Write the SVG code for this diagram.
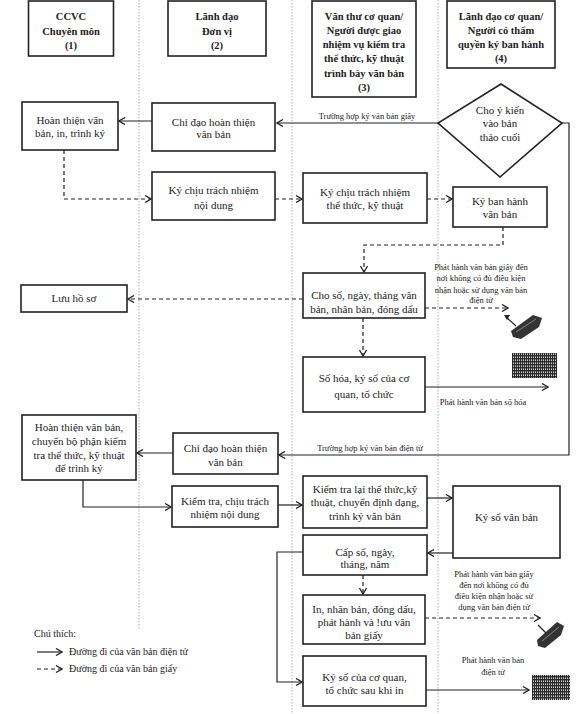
<svg xmlns="http://www.w3.org/2000/svg" width="576" height="714" viewBox="0 0 576 714">
<style>
.bx{fill:#fff;stroke:#222;stroke-width:1.6}
.t{font-family:"Liberation Serif","Times New Roman",serif;font-size:11px;fill:#222;text-anchor:middle}
.h{font-weight:bold;font-size:10.5px}
.s{font-size:8.5px}
.lg{font-size:10px;text-anchor:start}
.c{stroke:#222;stroke-width:1.2;fill:none;marker-end:url(#ah)}
.d{stroke-dasharray:4 3}
.dv{stroke:#999;stroke-width:0.8;stroke-dasharray:1.5 1.5;fill:none}
</style>
<defs>
<marker id="ah" viewBox="0 0 8 8" refX="7" refY="4" markerWidth="8" markerHeight="8" markerUnits="userSpaceOnUse" orient="auto">
<path d="M1,0.5 L7,4 L1,7.5" fill="none" stroke="#222" stroke-width="1.3"/>
</marker>
<pattern id="hatch" width="2" height="3" patternUnits="userSpaceOnUse">
<rect width="2" height="3" fill="#2a2a2a"/>
<rect x="1" y="0" width="1" height="1" fill="#ccc"/>
<rect x="1" y="2" width="1" height="1" fill="#888"/>
</pattern>
</defs>
<rect width="576" height="714" fill="#fff"/>
<g id="dividers">
<path class="dv" d="M139,0 V630 M292,0 V714 M438,0 V714"/>
</g>
<g id="connectors">
<path class="c" d="M152,121 H119"/>
<path class="c" d="M438,123 H277"/>
<text class="t s" x="367" y="119">Trường hợp ký văn bản giấy</text>
<path class="c d" d="M64,150 V199 H151"/>
<path class="c d" d="M275,199 H302"/>
<path class="c d" d="M427,199 H452"/>
<path class="c d" d="M503,227 V245 H364 V272"/>
<path class="c d" d="M303,299 H128"/>
<path class="c d" d="M425,308 H508"/>
<path class="c d" d="M363,318 V356"/>
<path class="c" d="M425,387 H548"/>
<path class="c" d="M562,123 H569 V455 H279"/>
<text class="t s" x="370" y="451">Trường hợp ký văn bản điện tử</text>
<path class="c" d="M173,453 H137"/>
<path class="c" d="M83,480 V507 H171"/>
<path class="c" d="M278,505 H302"/>
<path class="c" d="M427,498 H452"/>
<path class="c" d="M453,553 H428"/>
<path class="c" d="M303,552 H277 V682 H302"/>
<path class="c d" d="M363,575 V594"/>
<path class="c d" d="M425,618 H540"/>
<path class="c" d="M426,690 H529"/>
</g>
<g id="h1"><rect class="bx" x="28.5" y="1" width="85" height="55"/>
<text class="t h" x="71" y="20">CCVC</text><text class="t h" x="71" y="34.5">Chuyên môn</text><text class="t h" x="71" y="49">(1)</text></g>
<g id="h2"><rect class="bx" x="168" y="1" width="98" height="55"/>
<text class="t h" x="217" y="20">Lãnh đạo</text><text class="t h" x="217" y="34.5">Đơn vị</text><text class="t h" x="217" y="49">(2)</text></g>
<g id="h3"><rect class="bx" x="312" y="1" width="104" height="96"/>
<text class="t h" x="364" y="19.5">Văn thư cơ quan/</text><text class="t h" x="364" y="33.8">Người được giao</text><text class="t h" x="364" y="48.1">nhiệm vụ kiểm tra</text><text class="t h" x="364" y="62.4">thể thức, kỹ thuật</text><text class="t h" x="364" y="76.7">trình bày văn bản</text><text class="t h" x="364" y="91">(3)</text></g>
<g id="h4"><rect class="bx" x="447" y="1" width="108" height="67"/>
<text class="t h" x="501" y="19.5">Lãnh đạo cơ quan/</text><text class="t h" x="501" y="33.8">Người có thẩm</text><text class="t h" x="501" y="48.1">quyền ký ban hành</text><text class="t h" x="501" y="62.4">(4)</text></g>
<g id="diamond"><polygon class="bx" points="501,84 562,123 500,177 438,123"/>
<text class="t" x="500" y="114">Cho ý kiến</text><text class="t" x="500" y="127">vào bản</text><text class="t" x="500" y="141">thảo cuối</text></g>
<g id="a1"><rect class="bx" x="22" y="102" width="96" height="48"/>
<text class="t" x="70" y="124">Hoàn thiện văn</text><text class="t" x="70" y="137">bản, in, trình ký</text></g>
<g id="a2"><rect class="bx" x="152" y="103" width="123" height="48"/>
<text class="t" x="213.5" y="126">Chỉ đạo hoàn thiện</text><text class="t" x="213.5" y="138">văn bản</text></g>
<g id="b2"><rect class="bx" x="152" y="172" width="123" height="48"/>
<text class="t" x="213.5" y="194">Ký chịu trách nhiệm</text><text class="t" x="213.5" y="209">nội dung</text></g>
<g id="b3"><rect class="bx" x="303" y="173" width="124" height="50"/>
<text class="t" x="365" y="196">Ký chịu trách nhiệm</text><text class="t" x="365" y="209">thể thức, kỹ thuật</text></g>
<g id="b4"><rect class="bx" x="453" y="187" width="94" height="40"/>
<text class="t" x="500" y="205">Ký ban hành</text><text class="t" x="500" y="218">văn bản</text></g>
<g id="c3"><rect class="bx" x="303" y="273" width="122" height="45"/>
<text class="t" x="364" y="299">Cho số, ngày, tháng văn</text><text class="t" x="364" y="313">bản, nhân bản, đóng dấu</text></g>
<g id="luu"><rect class="bx" x="21" y="285" width="106" height="27"/>
<text class="t" x="74" y="302">Lưu hồ sơ</text></g>
<g id="lbl1"><text class="t s" x="481" y="270">Phát hành văn bản giấy đến</text><text class="t s" x="481" y="281">nơi không có đủ điều kiện</text><text class="t s" x="481" y="293">nhận hoặc sử dụng văn bản</text><text class="t s" x="481" y="303">điện tử</text></g>
<g id="icon1"><path d="M511,331 L533,315 L542,318 L539,327 L521,339 L513,337 Z" fill="#333"/><path d="M516,332 L536,319" stroke="#999" stroke-width="0.8"/><path d="M506,317 L516,326" stroke="#222" stroke-width="1.2"/><path d="M504,315 L510,315 L507,320 Z" fill="#222"/></g>
<g id="c3b"><rect class="bx" x="303" y="357" width="122" height="55"/>
<text class="t" x="364" y="382">Số hóa, ký số của cơ</text><text class="t" x="364" y="398">quan, tổ chức</text></g>
<text class="t s" x="483" y="405">Phát hành văn bản số hóa</text>
<rect id="icon2" x="512" y="353" width="45" height="25" fill="url(#hatch)"/>
<g id="d1"><rect class="bx" x="22" y="415" width="114" height="65"/>
<text class="t" x="79" y="431">Hoàn thiện văn bản,</text><text class="t" x="79" y="445">chuyển bộ phận kiểm</text><text class="t" x="79" y="459">tra thể thức, kỹ thuật</text><text class="t" x="79" y="472">để trình ký</text></g>
<g id="d2"><rect class="bx" x="173" y="433" width="105" height="41"/>
<text class="t" x="225.5" y="452">Chỉ đạo hoàn thiện</text><text class="t" x="225.5" y="466">văn bản</text></g>
<g id="e2"><rect class="bx" x="172" y="486" width="106" height="41"/>
<text class="t" x="225" y="505">Kiểm tra, chịu trách</text><text class="t" x="225" y="518">nhiệm nội dung</text></g>
<g id="e3"><rect class="bx" x="303" y="476" width="124" height="52"/>
<text class="t" x="365" y="493">Kiểm tra lại thể thức,kỹ</text><text class="t" x="365" y="506">thuật, chuyển định dạng,</text><text class="t" x="365" y="520">trình ký văn bản</text></g>
<g id="e4"><rect class="bx" x="453" y="486" width="107" height="72"/>
<text class="t" x="506.5" y="521">Ký số văn bản</text></g>
<g id="f3"><rect class="bx" x="303" y="535" width="124" height="40"/>
<text class="t" x="365" y="556">Cấp số, ngày,</text><text class="t" x="365" y="568">tháng, năm</text></g>
<g id="g3"><rect class="bx" x="303" y="595" width="122" height="49"/>
<text class="t" x="364" y="613">In, nhân bản, đóng dấu,</text><text class="t" x="364" y="626">phát hành và !ưu văn</text><text class="t" x="364" y="639">bản giấy</text></g>
<g id="lbl2"><text class="t s" x="494" y="577">Phát hành văn bản giấy</text><text class="t s" x="494" y="588">đến nơi không có đủ</text><text class="t s" x="494" y="599">điều kiện nhận hoặc sử</text><text class="t s" x="494" y="610">dụng văn bản điện tử</text></g>
<g id="icon3"><path d="M537,640 L557,622 L564,626 L561,635 L545,648 L538,646 Z" fill="#333"/><path d="M542,641 L559,627" stroke="#999" stroke-width="0.8"/><path d="M538,625 L546,633" stroke="#222" stroke-width="1.2"/></g>
<g id="h3b"><rect class="bx" x="303" y="656" width="123" height="50"/>
<text class="t" x="364.5" y="681">Ký số của cơ quan,</text><text class="t" x="364.5" y="694">tổ chức sau khi in</text></g>
<g id="lbl3"><text class="t s" x="493" y="663">Phát hành văn bản</text><text class="t s" x="493" y="675">điện tử</text></g>
<rect id="icon4" x="532" y="675" width="38" height="25" fill="url(#hatch)"/>
<g id="legend">
<text class="t lg" x="34" y="637">Chú thích:</text>
<path class="c" d="M37,652 H62"/>
<text class="t lg" x="69" y="655">Đường đi của văn bản điện tử</text>
<path class="c d" d="M37,669 H62"/>
<text class="t lg" x="69" y="672">Đường đi của văn bản giấy</text>
</g>
</svg>
